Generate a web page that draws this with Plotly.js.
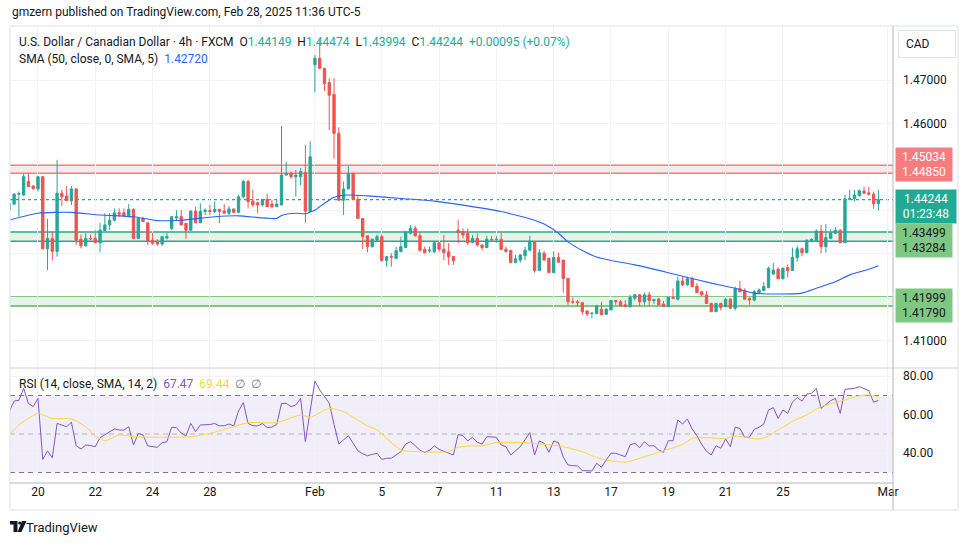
<!DOCTYPE html>
<html><head><meta charset="utf-8">
<script src="https://cdn.plot.ly/plotly-3.0.1.min.js"></script>
<style>html,body{margin:0;padding:0;background:#fff;} #chart{width:970px;height:545px;}</style>
</head><body><div id="chart"></div>
<script>
// ---------- DATA ----------
const tickIdx  = [6, 18, 30, 42, 64, 78, 90, 102, 114, 126, 138, 150, 162, 184];
const tickText = ['20','22','24','28','Feb','5','7','11','13','17','19','21','25','Mar'];

const open = [
1.4402,1.4414,1.4437,1.4435,1.4466,1.4456,1.4449,1.4477,1.4311,1.4335,
1.4305,1.4439,1.4433,1.4422,1.4449,1.4333,1.4318,1.4335,1.4335,1.4325,
1.4353,1.4366,1.4377,1.4394,1.4394,1.4387,1.4402,1.4335,1.4381,1.4371,
1.4331,1.4327,1.4322,1.4336,1.4358,1.4382,1.4385,1.4370,1.4354,1.4398,
1.4371,1.4397,1.4399,1.4397,1.4402,1.4398,1.4393,1.4403,1.4395,1.4431,
1.4466,1.4421,1.4417,1.4412,1.4425,1.4414,1.4408,1.4412,1.4481,1.4485,
1.4477,1.4477,1.4487,1.4397,1.4735,1.4750,1.4727,1.4694,1.4667,1.4577,
1.4423,1.4449,1.4485,1.4425,1.4381,1.4341,1.4316,1.4331,1.4339,1.4284,
1.4293,1.4289,1.4305,1.4314,1.4347,1.4358,1.4341,1.4310,1.4306,1.4304,
1.4325,1.4310,1.4304,1.4293,1.4354,1.4351,1.4347,1.4325,1.4335,1.4320,
1.4314,1.4333,1.4332,1.4333,1.4310,1.4307,1.4279,1.4285,1.4295,1.4308,
1.4328,1.4261,1.4301,1.4289,1.4256,1.4291,1.4285,1.4243,1.4189,1.4189,
1.4187,1.4168,1.4162,1.4162,1.4172,1.4160,1.4170,1.4192,1.4189,1.4182,
1.4178,1.4197,1.4205,1.4189,1.4205,1.4192,1.4195,1.4184,1.4178,1.4199,
1.4195,1.4237,1.4228,1.4242,1.4225,1.4212,1.4205,1.4185,1.4166,1.4185,
1.4178,1.4195,1.4174,1.4219,1.4215,1.4197,1.4193,1.4210,1.4215,1.4222,
1.4253,1.4264,1.4242,1.4268,1.4261,1.4291,1.4311,1.4302,1.4330,1.4330,
1.4352,1.4316,1.4335,1.4347,1.4354,1.4325,1.4425,1.4427,1.4434,1.4444,
1.4440,1.4437,1.44149];
const high = [
1.4417,1.4439,1.4443,1.4485,1.4485,1.4457,1.4479,1.4479,1.4380,1.4350,
1.4516,1.4447,1.4456,1.4456,1.4450,1.4344,1.4347,1.4344,1.4354,1.4371,
1.4393,1.4393,1.4404,1.4404,1.4404,1.4414,1.4404,1.4385,1.4385,1.4372,
1.4348,1.4333,1.4341,1.4348,1.4387,1.4400,1.4400,1.4370,1.4400,1.4408,
1.4416,1.4404,1.4412,1.4420,1.4403,1.4414,1.4410,1.4403,1.4435,1.4470,
1.4470,1.4447,1.4420,1.4425,1.4437,1.4424,1.4425,1.4594,1.4512,1.4489,
1.4493,1.4497,1.4550,1.4559,1.4758,1.4792,1.4727,1.4704,1.4704,1.4591,
1.4466,1.4502,1.4486,1.4435,1.4381,1.4341,1.4335,1.4344,1.4344,1.4294,
1.4301,1.4316,1.4339,1.4351,1.4366,1.4364,1.4348,1.4316,1.4316,1.4327,
1.4327,1.4343,1.4324,1.4293,1.4377,1.4358,1.4358,1.4343,1.4347,1.4321,
1.4341,1.4341,1.4341,1.4347,1.4316,1.4308,1.4297,1.4299,1.4316,1.4341,
1.4328,1.4310,1.4306,1.4291,1.4305,1.4302,1.4285,1.4243,1.4199,1.4193,
1.4187,1.4168,1.4163,1.4182,1.4189,1.4174,1.4193,1.4193,1.4193,1.4193,
1.4205,1.4207,1.4207,1.4210,1.4212,1.4195,1.4198,1.4191,1.4200,1.4220,
1.4247,1.4247,1.4247,1.4247,1.4232,1.4214,1.4214,1.4187,1.4187,1.4187,
1.4197,1.4197,1.4224,1.4237,1.4220,1.4199,1.4216,1.4220,1.4235,1.4270,
1.4278,1.4268,1.4268,1.4275,1.4314,1.4318,1.4314,1.4333,1.4335,1.4356,
1.4366,1.4368,1.4356,1.4361,1.4356,1.4435,1.4447,1.4447,1.4448,1.4454,
1.4454,1.4443,1.44474];
const low = [
1.4400,1.4412,1.4385,1.4433,1.4454,1.4447,1.4443,1.4310,1.4262,1.4284,
1.4293,1.4410,1.4421,1.4412,1.4320,1.4312,1.4316,1.4331,1.4324,1.4303,
1.4353,1.4354,1.4374,1.4385,1.4385,1.4385,1.4333,1.4334,1.4373,1.4320,
1.4320,1.4318,1.4318,1.4333,1.4354,1.4377,1.4366,1.4334,1.4352,1.4370,
1.4370,1.4389,1.4389,1.4393,1.4370,1.4393,1.4389,1.4393,1.4393,1.4427,
1.4404,1.4408,1.4393,1.4408,1.4408,1.4404,1.4408,1.4412,1.4480,1.4473,
1.4431,1.4458,1.4371,1.4397,1.4671,1.4725,1.4675,1.4585,1.4519,1.4423,
1.4389,1.4449,1.4425,1.4381,1.4310,1.4303,1.4314,1.4329,1.4281,1.4270,
1.4270,1.4289,1.4304,1.4314,1.4344,1.4339,1.4304,1.4301,1.4302,1.4301,
1.4304,1.4285,1.4274,1.4274,1.4324,1.4335,1.4320,1.4325,1.4316,1.4307,
1.4312,1.4328,1.4325,1.4308,1.4302,1.4279,1.4279,1.4279,1.4285,1.4305,
1.4256,1.4261,1.4285,1.4256,1.4256,1.4280,1.4210,1.4182,1.4184,1.4178,
1.4159,1.4156,1.4151,1.4161,1.4159,1.4159,1.4170,1.4182,1.4179,1.4178,
1.4175,1.4192,1.4179,1.4181,1.4179,1.4184,1.4182,1.4178,1.4176,1.4197,
1.4192,1.4225,1.4225,1.4222,1.4210,1.4202,1.4185,1.4166,1.4166,1.4169,
1.4176,1.4172,1.4169,1.4212,1.4193,1.4182,1.4190,1.4208,1.4213,1.4220,
1.4251,1.4241,1.4241,1.4245,1.4261,1.4281,1.4294,1.4302,1.4328,1.4328,
1.4301,1.4302,1.4333,1.4345,1.4324,1.4325,1.4424,1.4420,1.4431,1.4437,
1.4434,1.4403,1.43994];
const close = [
1.4416,1.4437,1.4438,1.4477,1.4454,1.4450,1.4477,1.4311,1.4335,1.4305,
1.4439,1.4431,1.4422,1.4449,1.4331,1.4318,1.4335,1.4334,1.4325,1.4354,
1.4366,1.4377,1.4394,1.4391,1.4387,1.4402,1.4335,1.4381,1.4374,1.4329,
1.4324,1.4322,1.4339,1.4339,1.4385,1.4385,1.4366,1.4354,1.4398,1.4371,
1.4397,1.4400,1.4397,1.4402,1.4397,1.4393,1.4403,1.4395,1.4431,1.4466,
1.4420,1.4412,1.4412,1.4425,1.4408,1.4408,1.4414,1.4481,1.4485,1.4477,
1.4481,1.4489,1.4398,1.4523,1.4750,1.4727,1.4692,1.4665,1.4577,1.4423,
1.4449,1.4485,1.4425,1.4381,1.4339,1.4316,1.4333,1.4339,1.4284,1.4293,
1.4292,1.4307,1.4316,1.4351,1.4358,1.4341,1.4308,1.4302,1.4308,1.4325,
1.4310,1.4302,1.4293,1.4284,1.4348,1.4343,1.4325,1.4335,1.4320,1.4314,
1.4333,1.4332,1.4333,1.4310,1.4305,1.4279,1.4288,1.4297,1.4308,1.4328,
1.4261,1.4302,1.4285,1.4256,1.4291,1.4280,1.4243,1.4189,1.4188,1.4187,
1.4166,1.4161,1.4163,1.4179,1.4159,1.4172,1.4192,1.4189,1.4179,1.4178,
1.4199,1.4205,1.4189,1.4205,1.4192,1.4194,1.4182,1.4178,1.4200,1.4197,
1.4237,1.4228,1.4242,1.4224,1.4210,1.4205,1.4185,1.4166,1.4185,1.4176,
1.4195,1.4174,1.4219,1.4212,1.4195,1.4193,1.4212,1.4216,1.4224,1.4266,
1.4262,1.4242,1.4266,1.4261,1.4291,1.4311,1.4302,1.4331,1.4333,1.4352,
1.4316,1.4337,1.4348,1.4354,1.4325,1.4426,1.4427,1.4435,1.4445,1.4439,
1.4437,1.44149,1.44244];

// SMA(50)
const smaIdx = [0,6,13,19,26,31,36,43,48,56,57,60,62,63,64,65,66,68,71,75,82,89,96,103,106,110,112,115,117,120,123,126,131,138,142,147,152,156,160,166,169,173,176,180,182];
const smaVal = [1.4377,1.4393,1.4395,1.4389,1.4385,1.4376,1.4377,1.4385,1.4387,1.4381,1.4388,1.4393,1.4392,1.4396,1.4400,1.4408,1.4416,1.4430,1.4435,1.4433,1.4427,1.4421,1.4410,1.4397,1.4389,1.4377,1.4368,1.4347,1.4327,1.4307,1.4292,1.4284,1.4274,1.4256,1.4245,1.4232,1.4220,1.4209,1.4207,1.4209,1.4220,1.4235,1.4251,1.4264,1.42720];

// RSI(14) per bar
const rsi = [
61.6,67.1,67.5,73.7,65.9,64.2,68.5,36.8,41.2,37.7,
55.5,54.5,53.8,56.1,43.9,42.2,44.3,44.0,43.4,48.1,
49.5,50.8,52.6,52.1,52.0,53.8,44.3,50.3,49.5,43.8,
43.3,43.1,45.5,46.0,53.5,53.3,50.5,49.0,55.5,51.2,
54.7,54.9,54.9,55.5,54.2,54.3,55.2,54.2,62.0,66.3,
55.5,54.3,54.2,55.5,53.3,53.6,55.0,65.9,65.9,64.2,
65.1,68.5,46.0,62.0,77.5,72.9,69.5,66.0,55.0,44.8,
47.0,49.1,45.2,41.2,39.8,38.7,39.4,40.0,36.8,37.4,
37.4,39.0,40.8,44.8,46.0,44.0,41.5,40.5,41.5,43.8,
42.0,41.0,40.0,39.1,49.8,49.1,46.4,48.3,45.7,44.8,
48.6,48.4,48.3,44.3,43.4,39.1,41.5,43.4,47.0,50.7,
39.1,46.4,45.2,40.5,46.4,45.5,38.0,33.9,33.6,33.4,
31.0,30.9,30.8,34.8,32.7,36.5,40.0,40.0,39.0,38.2,
44.3,45.2,42.9,46.0,43.8,43.9,41.7,40.5,46.5,46.5,
57.3,55.2,57.8,52.6,49.1,44.6,41.0,39.1,43.9,42.6,
47.4,43.4,53.5,52.9,48.3,48.3,52.4,53.5,55.2,62.5,
63.7,58.1,62.5,60.7,66.5,69.0,67.1,70.8,71.1,73.7,
63.3,65.4,67.3,68.5,60.7,73.2,73.5,73.7,74.6,73.7,
72.5,66.5,67.47];
const rsiMaIdx = [0,2,4,6,9,13,16,18,20,23,26,31,38,42,47,50,56,61,63,67,70,75,77,82,86,92,94,97,99,102,108,111,115,120,123,125,129,132,137,141,143,146,150,152,157,159,161,165,167,170,173,175,178,180,182];
const rsiMaVal = [49.5,54.7,58.1,60.7,58.1,57.8,53.8,49.0,46.5,49.5,48.6,48.3,48.6,50.3,53.8,55.9,55.9,59.9,58.7,63.3,61.6,54.2,52.1,41.7,40.8,40.8,43.1,43.8,43.8,45.5,45.5,44.8,43.9,40.8,37.7,36.5,35.3,37.4,41.3,44.6,47.7,48.1,47.7,48.9,47.4,48.9,52.1,57.8,59.9,64.2,66.3,67.7,69.9,70.3,69.44];

const bandRed = [1.45034, 1.44850];
const bandMid = [1.43499, 1.43284];
const bandLow = [1.41999, 1.41790];
const priceTicks = [1.41,1.42,1.43,1.44,1.45,1.46,1.47];
const priceTickShown = [1.41,1.46,1.47];
const rsiTicks = [40,60,80];
const rsiLevels = [70,50,30];
const countdown = '01:23:48';

// ---------- helpers ----------
const W = 970, H = 545;
const px = v => v / W, py = v => 1 - v / H;
const XL = 10, XR = 893;
const idx = open.map((_, i) => i);
const n = close.length;
const f5 = v => v.toFixed(5);

const UP = '#26a69a', DN = '#ef5350';

const traces = [
  {type:'candlestick', x: idx, open, high, low, close, xaxis:'x', yaxis:'y',
   increasing:{line:{color:UP,width:1}, fillcolor:UP},
   decreasing:{line:{color:DN,width:1}, fillcolor:DN},
   whiskerwidth:0, hoverinfo:'skip', showlegend:false},
  {type:'scatter', mode:'lines', x: smaIdx, y: smaVal, xaxis:'x', yaxis:'y',
   line:{color:'#2962ff', width:1.1, shape:'spline', smoothing:0.6}, hoverinfo:'skip'},
  {type:'scatter', mode:'lines', x: idx, y: rsi, xaxis:'x2', yaxis:'y2',
   line:{color:'#7e57c2', width:1}, hoverinfo:'skip'},
  {type:'scatter', mode:'lines', x: rsiMaIdx, y: rsiMaVal, xaxis:'x2', yaxis:'y2',
   line:{color:'#f7d83a', width:1}, hoverinfo:'skip'}
];
traces[3].line.shape = 'spline'; traces[3].line.smoothing = 0.6;

const shapes = [];
function hline(yref, v, color, width, dash){
  shapes.push({type:'line', xref:'paper', yref, x0:px(XL), x1:px(XR), y0:v, y1:v,
    line:{color, width, dash: dash||'solid'}, layer:'between'});
}
function band(vals, fill, lc, lw){
  shapes.push({type:'rect', xref:'paper', yref:'y', x0:px(XL), x1:px(XR), y0:vals[1], y1:vals[0],
    fillcolor:fill, line:{width:0}, layer:'between'});
  hline('y', vals[0], lc, lw); hline('y', vals[1], lc, lw);
}
band(bandRed, 'rgba(247,124,128,0.18)', '#f77c80', 1.5);
band(bandMid, 'rgba(76,175,80,0.14)', '#22ab94', 1.5);
band(bandLow, 'rgba(76,175,80,0.14)', '#81c784', 2);
hline('y', close[n-1], '#22ab94', 1.2, 'dot');
// RSI background and levels
shapes.push({type:'rect', xref:'paper', yref:'y2', x0:px(XL), x1:px(XR), y0:rsiLevels[2], y1:rsiLevels[0],
  fillcolor:'rgba(126,87,194,0.1)', line:{width:0}, layer:'between'});
hline('y2', rsiLevels[0], '#787b86', 1, '5px,4px');
hline('y2', rsiLevels[1], 'rgba(120,123,134,0.5)', 1, '5px,4px');
hline('y2', rsiLevels[2], '#787b86', 1, '5px,4px');
// frame
shapes.push({type:'rect', xref:'paper', yref:'paper', x0:px(10), x1:px(958), y0:py(510), y1:py(26),
  line:{color:'#e0e3eb', width:1}, fillcolor:'rgba(0,0,0,0)', layer:'above'});
shapes.push({type:'line', xref:'paper', yref:'paper', x0:px(10), x1:px(958), y0:py(368), y1:py(368),
  line:{color:'#d1d4dc', width:1}, layer:'above'});
shapes.push({type:'line', xref:'paper', yref:'paper', x0:px(XR), x1:px(XR), y0:py(510), y1:py(26),
  line:{color:'#b2b5be', width:1}, layer:'above'});
shapes.push({type:'line', xref:'paper', yref:'paper', x0:px(10), x1:px(XR), y0:py(483), y1:py(483),
  line:{color:'#b2b5be', width:1}, layer:'above'});
// TradingView logo mark
function pathPx(pts){ return 'M' + pts.map(p => px(p[0]).toFixed(5) + ',' + py(p[1]).toFixed(5)).join(' L') + ' Z'; }
shapes.push({type:'path', xref:'paper', yref:'paper', path: pathPx([[10,521],[17.5,521],[17.5,532],[13.5,532],[13.5,524.5],[10,524.5]]), fillcolor:'#131722', line:{width:0}});
shapes.push({type:'circle', xref:'paper', yref:'paper', x0:px(18.2), x1:px(21.4), y0:py(524.6), y1:py(521.4), fillcolor:'#131722', line:{width:0}});
shapes.push({type:'path', xref:'paper', yref:'paper', path: pathPx([[22,521],[26.5,521],[21.5,532],[17.5,532]]), fillcolor:'#131722', line:{width:0}});

const TXT = '#131722', TEAL = '#22ab94';
const sp = '\u00a0';
const chg = close[n-1] - close[n-2];
const pct = chg / close[n-2] * 100;
const sgn = v => (v >= 0 ? '+' : '−');
const legend1 = 'U.S. Dollar / Canadian Dollar · 4h · FXCM' + sp+sp +
  'O<span style="color:'+TEAL+'">'+f5(open[n-1])+'</span>'+sp+sp+
  'H<span style="color:'+TEAL+'">'+f5(high[n-1])+'</span>'+sp+sp+
  'L<span style="color:'+TEAL+'">'+f5(low[n-1])+'</span>'+sp+sp+
  'C<span style="color:'+TEAL+'">'+f5(close[n-1])+'</span>'+sp+sp+
  '<span style="color:'+TEAL+'">'+sgn(chg)+Math.abs(chg).toFixed(5)+' ('+sgn(pct)+Math.abs(pct).toFixed(2)+'%)</span>';
const legend2 = 'SMA (50, close, 0, SMA, 5)'+sp+sp+'<span style="color:#2962ff">'+f5(smaVal[smaVal.length-1])+'</span>';
const legend3 = 'RSI (14, close, SMA, 14, 2)'+sp+sp+'<span style="color:#7e57c2">'+rsi[n-1].toFixed(2)+'</span>'+sp+sp+
  '<span style="color:#f7d83a">'+rsiMaVal[rsiMaVal.length-1].toFixed(2)+'</span>'+sp+sp+
  '<span style="color:#787b86">∅'+sp+sp+'∅</span>';

const FONT = 'Roboto, "Liberation Sans", Arial, sans-serif';
const annotations = [
  {xref:'paper', yref:'paper', x:px(10), y:py(12), xanchor:'left', yanchor:'middle', showarrow:false,
   text:'gmzern published on TradingView.com, Feb 28, 2025 11:36 UTC-5', font:{family:FONT, size:12, color:TXT}},
  {xref:'paper', yref:'paper', x:px(17), y:py(42), xanchor:'left', yanchor:'middle', showarrow:false,
   text:legend1, font:{family:FONT, size:12, color:TXT}},
  {xref:'paper', yref:'paper', x:px(17), y:py(59), xanchor:'left', yanchor:'middle', showarrow:false,
   text:legend2, font:{family:FONT, size:12, color:TXT}},
  {xref:'paper', yref:'paper', x:px(17), y:py(384), xanchor:'left', yanchor:'middle', showarrow:false,
   text:legend3, font:{family:FONT, size:12, color:TXT}},
  {xref:'paper', yref:'paper', x:px(24), y:py(527), xanchor:'left', yanchor:'middle', showarrow:false,
   text:'TradingView', font:{family:FONT, size:13, color:TXT}},
  {xref:'paper', yref:'paper', x:px(898), y:py(44), xanchor:'left', yanchor:'middle', showarrow:false,
   text:sp+sp+'CAD', align:'left', width:54, height:24, bordercolor:'#e0e3eb', borderwidth:1, borderpad:1,
   font:{family:FONT, size:12, color:TXT}}
];
function priceBox(yc, lines, bg, fc, w){
  annotations.push({xref:'paper', yref:'paper', x:px(895), y:py(yc), xanchor:'left', yanchor:'middle', showarrow:false,
    text: lines.join('<br>'), bgcolor:bg, width:w||54, height:31, borderpad:1, align:'center',
    font:{family:FONT, size:12, color:fc}});
}
priceBox(164.5, bandRed.map(f5), '#f77c80', '#ffffff');
priceBox(206.5, [f5(close[n-1]), countdown], TEAL, '#ffffff', 58);
priceBox(240.5, bandMid.map(f5), '#81c784', TXT);
priceBox(305.5, bandLow.map(f5), '#81c784', TXT);

const pAt = y => 1.47 - (y - 80) / 4340;   // pixel calibration of the price pane
const rAt = y => 50 + (434 - y) / 1.925;   // pixel calibration of the RSI pane

const layout = {
  width: W, height: H, margin:{l:0, r:0, t:0, b:0},
  paper_bgcolor:'#ffffff', plot_bgcolor:'#ffffff',
  font:{family:FONT, size:12, color:TXT},
  showlegend:false, hovermode:false,
  xaxis:{domain:[px(XL), px(XR)], range:[0.14, 185.06], anchor:'y', tickvals:tickIdx, ticktext:tickText,
    showticklabels:false, showgrid:true, gridcolor:'#f0f3fa', zeroline:false, ticks:'', rangeslider:{visible:false}},
  yaxis:{domain:[py(368), py(26)], range:[pAt(368), pAt(26)], anchor:'x', side:'right',
    tickvals:priceTicks, ticktext:priceTicks.map(v => priceTickShown.includes(v) ? f5(v) : ''),
    showgrid:true, gridcolor:'#f0f3fa', zeroline:false, ticks:'', ticklabelstandoff:9,
    tickfont:{family:FONT, size:12, color:TXT}},
  xaxis2:{domain:[px(XL), px(XR)], range:[0.14, 185.06], anchor:'y2', tickvals:tickIdx, ticktext:tickText,
    showgrid:true, gridcolor:'#f0f3fa', zeroline:false, ticks:'', tickfont:{family:FONT, size:12, color:TXT}},
  yaxis2:{domain:[py(483), py(368)], range:[rAt(483), rAt(368)], anchor:'x2', side:'right',
    tickvals:rsiTicks, ticktext:rsiTicks.map(v => v.toFixed(2)),
    showgrid:true, gridcolor:'#f0f3fa', zeroline:false, ticks:'', ticklabelstandoff:9,
    tickfont:{family:FONT, size:12, color:TXT}},
  shapes, annotations
};

Plotly.newPlot('chart', traces, layout, {staticPlot:true, displayModeBar:false});
</script></body></html>
